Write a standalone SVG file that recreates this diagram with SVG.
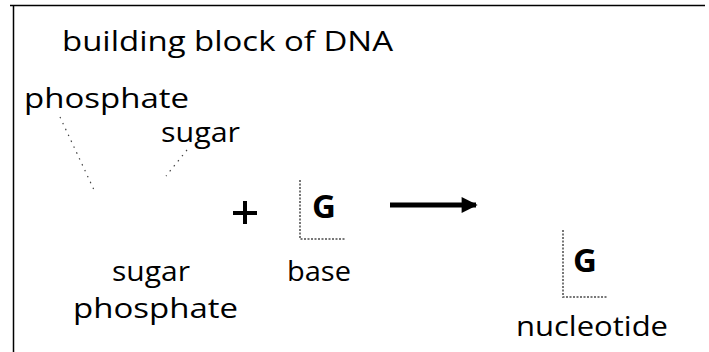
<svg xmlns="http://www.w3.org/2000/svg" width="709" height="352" viewBox="0 0 709 352">
  <style>
    .t { font-family: "Open Sans", "Noto Sans", sans-serif; font-size: 27px; fill: #000; }
    .g { font-family: "Open Sans", "Noto Sans", sans-serif; font-size: 33px; font-weight: bold; fill: #000; }
    .lead { stroke: #444; stroke-width: 1.2; stroke-dasharray: 1.5 5; fill: none; }
    .corner { stroke: #777; stroke-width: 2; stroke-dasharray: 2 1.5; fill: none; }
  </style>
  <defs>
    <marker id="head" viewBox="0 0 10 10" refX="9" refY="5" markerWidth="4" markerHeight="3.2" orient="auto" markerUnits="strokeWidth">
      <path d="M0,0 L10,5 L0,10 z" fill="#000"/>
    </marker>
  </defs>
  <rect width="709" height="352" fill="#fff"/>
  <!-- frame: top rule and left rule only -->
  <path d="M10,5.5 H705 M13.5,5 V352" stroke="#000" stroke-width="1.5" fill="none"/>

  <text class="t" x="62" y="51" textLength="331" lengthAdjust="spacingAndGlyphs">building block of DNA</text>

  <g id="sugar-phosphate">
    <text class="t" x="24" y="108" textLength="165" lengthAdjust="spacingAndGlyphs">phosphate</text>
    <text class="t" x="161" y="142" textLength="79" lengthAdjust="spacingAndGlyphs">sugar</text>
    <text class="t" x="112" y="281" textLength="78" lengthAdjust="spacingAndGlyphs">sugar</text>
    <text class="t" x="73" y="318" textLength="165" lengthAdjust="spacingAndGlyphs">phosphate</text>
  </g>

  <g id="plus">
    <path d="M233,213 H257 M245,201 V224" stroke="#000" stroke-width="4" fill="none"/>
  </g>

  <g id="base">
    <path class="corner" d="M300,180 V239 H345"/>
    <text class="g" x="312" y="218">G</text>
    <text class="t" x="287" y="281" textLength="64" lengthAdjust="spacingAndGlyphs">base</text>
  </g>

  <g id="nucleotide">
    <path class="corner" d="M563,230 V297 H608"/>
    <text class="g" x="573" y="272">G</text>
    <text class="t" x="516" y="336" textLength="152" lengthAdjust="spacingAndGlyphs">nucleotide</text>
  </g>

  <g id="connectors">
    <path class="lead" d="M60,117 L95,192"/>
    <path class="lead" d="M187,150 L166,176"/>
    <path d="M390,205 H476" stroke="#000" stroke-width="5" fill="none" marker-end="url(#head)"/>
  </g>
</svg>
